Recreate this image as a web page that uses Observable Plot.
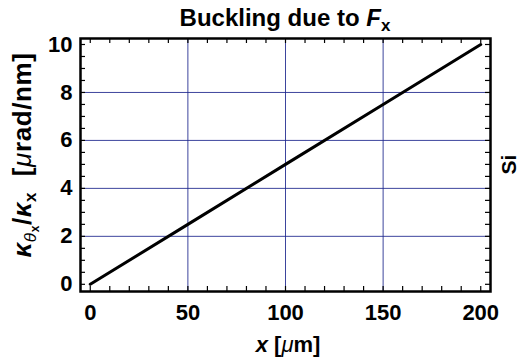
<!DOCTYPE html>
<html>
<head>
<meta charset="utf-8">
<script src="https://cdn.jsdelivr.net/npm/d3@7"></script>
<script src="https://cdn.jsdelivr.net/npm/@observablehq/plot@0.6"></script>
<style>
  body { margin: 0; background: #fff; }
  svg text { font-family: "Liberation Sans", Arial, Helvetica, sans-serif; }
</style>
</head>
<body>
<div id="chart"></div>
<script>
// Curvature ratio along the beam for buckling under F_x (silicon)
const positions = [0, 50, 100, 150, 200];      // x [µm]
const ratio = [0, 2.5, 5.0, 7.5, 10.0];         // κθx/κx [µrad/nm]

const xTicks = [0, 50, 100, 150, 200];
const yTicks = [0, 2, 4, 6, 8, 10];
const xGrid = [50, 100, 150];
const yGrid = [2, 4, 6, 8];
const xMinor = d3.range(0, 201, 10);
const yMinor = d3.range(0, 10.01, 0.5);

const data = positions.map((x, i) => ({x, y: ratio[i]}));

const W = 522, H = 361;
const M = {top: 38, right: 32, bottom: 70, left: 80};
const xDom = [-5, 205];
const yDom = [-0.3, 10.25];
const gridColor = "#1b248c";
const tk = 5; // inward tick length, px

// tick length expressed in data units of each scale
const kx = tk * (xDom[1] - xDom[0]) / (W - M.left - M.right);
const ky = tk * (yDom[1] - yDom[0]) / (H - M.top - M.bottom);

const tickStyle = {stroke: "black", strokeWidth: 1.2};

const chart = Plot.plot({
  width: W,
  height: H,
  marginTop: M.top,
  marginRight: M.right,
  marginBottom: M.bottom,
  marginLeft: M.left,
  style: {background: "white", fontFamily: "Liberation Sans, Arial, sans-serif", color: "black"},
  x: {domain: xDom},
  y: {domain: yDom},
  marks: [
    Plot.gridX(xGrid, {stroke: gridColor, strokeOpacity: 0.85, strokeWidth: 1}),
    Plot.gridY(yGrid, {stroke: gridColor, strokeOpacity: 0.85, strokeWidth: 1}),
    // minor ticks pointing inward on all four sides
    Plot.ruleX(xMinor, {y1: yDom[0], y2: yDom[0] + ky, ...tickStyle}),
    Plot.ruleX(xMinor, {y1: yDom[1], y2: yDom[1] - ky, ...tickStyle}),
    Plot.ruleY(yMinor, {x1: xDom[0], x2: xDom[0] + kx, ...tickStyle}),
    Plot.ruleY(yMinor, {x1: xDom[1], x2: xDom[1] - kx, ...tickStyle}),
    // major tick labels
    Plot.axisX(xTicks, {anchor: "bottom", tickSize: 0, tickPadding: 13, fontSize: 22, fontWeight: "bold", label: null}),
    Plot.axisY(yTicks, {anchor: "left", tickSize: 0, tickPadding: 8, fontSize: 22, fontWeight: "bold", label: null}),
    Plot.line(data, {x: "x", y: "y", stroke: "black", strokeWidth: 3}),
    Plot.frame({stroke: "black", strokeWidth: 2.5})
  ]
});

document.getElementById("chart").appendChild(chart);

// Titles with subscripts, drawn as SVG text
const svg = d3.select(chart);
const cx = (M.left + (W - M.right)) / 2;
const cy = (M.top + (H - M.bottom)) / 2;

function addRuns(text, runs) {
  for (const r of runs) {
    const t = text.append("tspan").text(r.t);
    if (r.italic) t.attr("font-style", "italic");
    if (r.weight) t.attr("font-weight", r.weight);
    if (r.size) t.attr("font-size", r.size);
    if (r.dy) t.attr("dy", r.dy);
  }
}

const title = svg.append("text")
  .attr("x", cx).attr("y", 26)
  .attr("text-anchor", "middle")
  .attr("font-size", 24).attr("font-weight", "bold").attr("fill", "black");
addRuns(title, [
  {t: "Buckling due to "},
  {t: "F", italic: true},
  {t: "x", size: 17, dy: 5}
]);

const ylab = svg.append("text")
  .attr("transform", `translate(31,155) rotate(-90)`)
  .attr("text-anchor", "middle")
  .attr("letter-spacing", 0.6)
  .attr("font-size", 26).attr("font-weight", "bold").attr("fill", "black");
addRuns(ylab, [
  {t: "κ", italic: true},
  {t: "θ", italic: true, weight: "normal", size: 17, dy: 5},
  {t: "x", size: 12, dy: 3},
  {t: "/", dy: -8},
  {t: "κ", italic: true},
  {t: "x", size: 17, dy: 5},
  {t: "  [", dy: -5},
  {t: "μ", italic: true, weight: "normal"},
  {t: "rad/nm]"}
]);

const xlab = svg.append("text")
  .attr("x", cx + 3).attr("y", 352)
  .attr("text-anchor", "middle")
  .attr("font-size", 22).attr("font-weight", "bold").attr("fill", "black");
addRuns(xlab, [
  {t: "x", italic: true},
  {t: " ["},
  {t: "μ", italic: true, weight: "normal"},
  {t: "m]"}
]);

svg.append("text")
  .attr("transform", `translate(516,${cy}) rotate(-90)`)
  .attr("text-anchor", "middle")
  .attr("font-size", 21).attr("font-weight", "bold").attr("fill", "black")
  .text("Si");
</script>
</body>
</html>
